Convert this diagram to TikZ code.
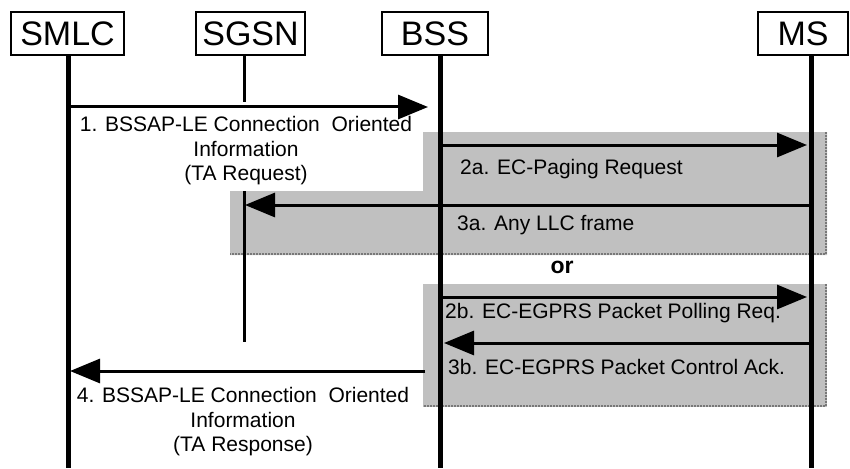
\documentclass[tikz,border=0pt]{standalone}
\usepackage{fontspec}
\setmainfont{Liberation Sans}
\usepackage{tikz}
\usetikzlibrary{arrows.meta,positioning,calc}
\definecolor{shadebox}{RGB}{192,192,192}
\definecolor{dotedge}{RGB}{120,120,120}

\begin{document}
\begin{tikzpicture}[
x=1pt, y=-1pt,
entity/.style={draw, line width=1.8pt, minimum height=43pt, inner sep=0pt, font=\fontsize{34}{34}\selectfont},
life/.style={line width=5pt},
thinlife/.style={line width=3pt},
msg/.style={line width=3pt, -{Triangle[length=30pt,width=24pt]}},
lbl/.style={inner sep=0pt, align=center, font=\fontsize{21}{24.5}\selectfont},
shadeedge/.style={dotedge, line width=2pt, densely dotted}
]
\useasboundingbox (0,0) rectangle (850,468);
\fill[shadebox] (230,191) -- (423,191) -- (423,132) -- (827,132) -- (827,255) -- (230,255) -- cycle;
\draw[shadeedge] (826,132) -- (826,254) -- (230,254);
\fill[shadebox] (423,284) rectangle (827,407);
\draw[shadeedge] (826,284) -- (826,406) -- (423,406);

\node[entity, minimum width=113pt] (smlc) at (67.5,33.5) {SMLC};
\node[entity, minimum width=109pt] (sgsn) at (250.5,33.5) {SGSN};
\node[entity, minimum width=106pt] (bss) at (435,33.5) {BSS};
\node[entity, minimum width=90pt] (ms) at (803,33.5) {MS};

\coordinate (smlcL) at (68,468);
\coordinate (sgsnL) at (244,342);
\coordinate (bssL) at (440,468);
\coordinate (msL) at (811,468);
\coordinate (gap1) at (244,102);
\coordinate (gap2) at (244,191);

\draw[life] (smlc.south -| smlcL) -- (smlcL);
\draw[life] (bss.south -| bssL) -- (bssL);
\draw[life] (ms.south -| msL) -- (msL);
\draw[thinlife] (sgsn.south -| sgsnL) -- (gap1);
\draw[thinlife] (gap2) -- (sgsnL);

\coordinate (m1) at (0,107);
\coordinate (m2a) at (0,145);
\coordinate (m3a) at (0,205);
\coordinate (m2b) at (0,297);
\coordinate (m3b) at (0,343);
\coordinate (m4) at (0,371);

\draw[msg, shorten >=12pt] (smlcL |- m1) -- (bssL |- m1);
\draw[msg, shorten >=4pt] (bssL |- m2a) -- (msL |- m2a);
\draw[msg, shorten >=1pt] (msL |- m3a) -- (sgsnL |- m3a);
\draw[msg, shorten >=4pt] (bssL |- m2b) -- (msL |- m2b);
\draw[msg, shorten >=4pt] (msL |- m3b) -- (bssL |- m3b);
\draw[msg, shorten <=15pt, shorten >=2pt] (bssL |- m4) -- (smlcL |- m4);

\node[lbl] (t1) at (246,151) {1. BSSAP-LE Connection\ \ Oriented\\Information\\(TA Request)};
\node[lbl, anchor=west] (t2a) at (460,169) {2a. EC-Paging Request};
\node[lbl, anchor=west] (t3a) at (457,225) {3a. Any LLC frame};
\node[lbl, font=\fontsize{23}{23}\selectfont\bfseries] (tor) at (562,267) {or};
\node[lbl, anchor=west] (t2b) at (445,313) {2b. EC-EGPRS Packet Polling Req.};
\node[lbl, anchor=west] (t3b) at (448,367) {3b. EC-EGPRS Packet Control Ack.};
\node[lbl] (t4) at (243,422) {4. BSSAP-LE Connection\ \ Oriented\\Information\\(TA Response)};
\end{tikzpicture}
\end{document}
